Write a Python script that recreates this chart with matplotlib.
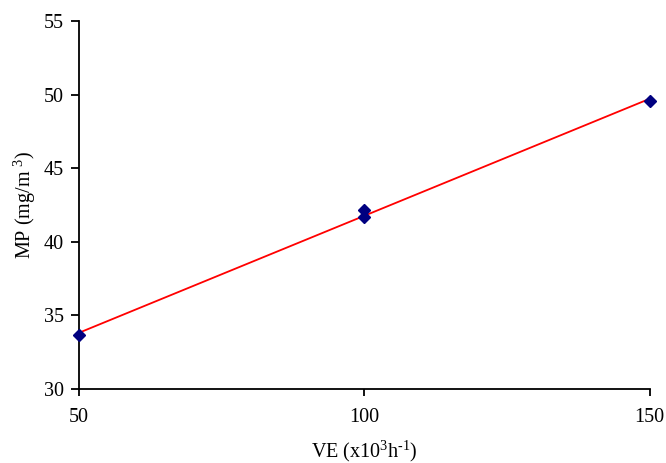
import numpy as np
import matplotlib.pyplot as plt

plt.rcParams['font.family'] = ['Liberation Serif', 'DejaVu Serif']
plt.rcParams['mathtext.fontset'] = 'custom'
plt.rcParams['mathtext.rm'] = 'Liberation Serif'
plt.rcParams['mathtext.it'] = 'Liberation Serif:italic'

# data
ve = [50, 100, 100, 150]
mp = [33.67, 42.16, 41.68, 49.57]

fig = plt.figure(figsize=(6.66, 4.63), dpi=100)
ax = fig.add_axes([0.1186, 0.1598, 0.857, 0.7948])

# linear trend line
k, b = np.polyfit(ve, mp, 1)
xs = np.array([50, 150])
ax.plot(xs, k * xs + b, color='red', lw=1.3, zorder=2)
ax.plot(ve, mp, 'D', color='#000080', ms=6.5, zorder=3, clip_on=False)

ax.set_xlim(50, 150)
ax.set_ylim(30, 55)
ax.set_xticks([50, 100, 150])
ax.set_yticks([30, 35, 40, 45, 50, 55])
ax.spines['top'].set_visible(False)
ax.spines['right'].set_visible(False)
for s in ['left', 'bottom']:
    ax.spines[s].set_linewidth(1.3)
ax.tick_params(axis='y', direction='out', length=6, width=1.3, labelsize=14.5, pad=5)
ax.tick_params(axis='x', direction='out', length=5, width=1.3, labelsize=14.5, pad=9)

ax.set_xlabel('VE (x10$^{3}$h$^{\u2010 1}$)', fontsize=14.5, labelpad=8)
ax.set_ylabel('MP (mg/m $^{3}$)', fontsize=14.5, labelpad=4)

fig.savefig('out.png', dpi=100)
